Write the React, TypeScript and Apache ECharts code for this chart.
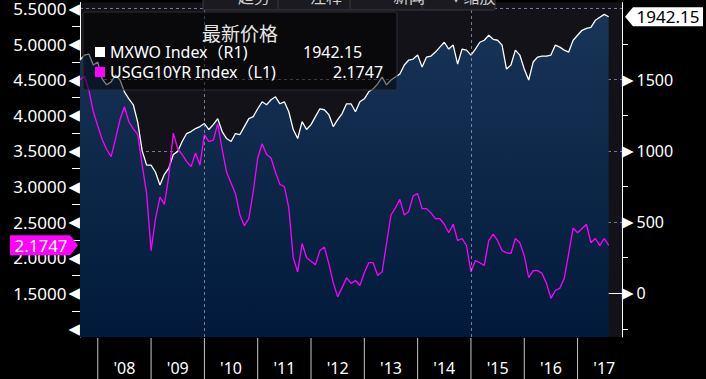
import { useEffect, useRef } from 'react';
import * as echarts from 'echarts';

// Monthly categories, Sep 2007 .. Nov 2017 (axis extends past last data point)
const START_YEAR = 2007;
const START_MONTH = 9;
const N_CATS = 123;
const months: string[] = Array.from({ length: N_CATS }, (_, i) => {
  const m = START_MONTH - 1 + i;
  return `${START_YEAR + Math.floor(m / 12)}-${String((m % 12) + 1).padStart(2, '0')}`;
});

// MXWO Index (R1), month-start readings
const mxwo: number[] = [
  1638, 1673, 1680, 1603, 1624, 1505, 1464, 1485, 1533, 1498,
  1415, 1366, 1324, 1200, 1000, 900, 900, 850, 760, 836,
  880, 975, 997, 1066, 1122, 1136, 1157, 1171, 1192, 1150,
  1185, 1227, 1136, 1087, 1066, 1122, 1115, 1171, 1227, 1241,
  1296, 1345, 1324, 1359, 1380, 1331, 1345, 1275, 1150, 1087,
  1206, 1150, 1185, 1241, 1296, 1289, 1255, 1171, 1220, 1262,
  1331, 1331, 1275, 1345, 1366, 1415, 1436, 1471, 1519, 1464,
  1498, 1519, 1540, 1603, 1638, 1645, 1673, 1589, 1659, 1666,
  1694, 1729, 1763, 1715, 1743, 1610, 1715, 1708, 1673, 1715,
  1763, 1777, 1812, 1784, 1777, 1743, 1575, 1603, 1708, 1673,
  1575, 1498, 1624, 1659, 1666, 1666, 1673, 1743, 1729, 1708,
  1694, 1777, 1812, 1847, 1861, 1868, 1917, 1938, 1959, 1942.15,
];

// USGG10YR Index (L1), month-start readings
const usgg10yr: number[] = [
  4.5, 4.55, 4.35, 4.05, 3.85, 3.66, 3.52, 3.42, 3.67, 3.94,
  4.12, 3.91, 3.81, 3.73, 3.3, 2.9, 2.1, 2.55, 2.85, 2.75,
  3.15, 3.75, 3.53, 3.45, 3.35, 3.28, 3.47, 3.3, 3.73, 3.63,
  3.65, 3.88, 3.52, 3.2, 3.05, 2.9, 2.6, 2.45, 2.55, 2.93,
  3.4, 3.6, 3.45, 3.4, 3.2, 3.03, 3.0, 2.7, 2.0, 1.8,
  2.2, 2.0, 1.95, 1.9, 2.1, 2.15, 1.92, 1.65, 1.45, 1.58,
  1.72, 1.64, 1.68, 1.61, 1.79, 1.93, 1.93, 1.75, 1.8, 2.2,
  2.6, 2.7, 2.82, 2.6, 2.65, 2.87, 2.9, 2.69, 2.69, 2.63,
  2.55, 2.55, 2.47, 2.35, 2.47, 2.24, 2.27, 2.17, 1.8, 1.96,
  1.93, 1.89, 2.24, 2.33, 2.24, 2.1, 2.07, 2.06, 2.27, 2.21,
  2.03, 1.72, 1.82, 1.82, 1.78, 1.64, 1.43, 1.54, 1.57, 1.71,
  2.06, 2.42, 2.35, 2.41, 2.47, 2.21, 2.27, 2.17, 2.27, 2.1747,
];

const leftLabelValues = [1, 1.5, 2, 2.5, 3, 3.5, 4, 4.5, 5, 5.5];
const leftMinorTicks = [1.25, 1.75, 2.25, 2.75, 3.25, 3.75, 4.25, 4.75, 5.25];
const rightLabelValues = [0, 500, 1000, 1500];
const rightMinorTicks = [-250, 250, 750, 1250, 1750];
const gridValues = [0, 500, 1000, 1500, 2000];
const gridYears = ['2010-01', '2015-01'];
const yearLabelMonths = months.filter((m) => m.endsWith('-07'));
// year separators drawn below the axis (one per January)
const yearSeparators = months.map((m) => (m.endsWith('-01') ? 1 : null));

const LEFT_MIN = 0.8868;
const LEFT_MAX = 5.5836;
const RIGHT_MIN = (LEFT_MIN - 1.5) * 500;
const RIGHT_MAX = (LEFT_MAX - 1.5) * 500;

const FONT = 'Noto Sans, Liberation Sans, sans-serif';
const CJK = 'Noto Sans CJK SC, Noto Sans, sans-serif';

export default function App() {
  const ref = useRef<HTMLDivElement>(null);

  useEffect(() => {
    document.body.style.margin = '0';
    document.body.style.background = '#000';
    if (!ref.current) return;
    const chart = echarts.init(ref.current, undefined, { renderer: 'svg' });
    const lastPrice = mxwo[mxwo.length - 1];
    const lastYield = usgg10yr[usgg10yr.length - 1];
    const dashed = { color: 'rgba(160,172,190,0.7)', type: [3, 3] as number[], width: 1 };
    const idx = (list: string[]) => list.map((m) => months.indexOf(m));

    const option: any = {
      animation: false,
      backgroundColor: '#000',
      textStyle: { fontFamily: FONT },
      grid: [
        { left: 80, right: 84, top: 0, bottom: 42, show: true, backgroundColor: '#131218', borderWidth: 0 },
        { left: 80, right: 84, top: 338, bottom: 0, show: false },
      ],
      xAxis: [
        {
          // category axis carrying the series
          type: 'category',
          gridIndex: 0,
          data: months,
          boundaryGap: false,
          position: 'bottom',
          axisLine: { show: true, lineStyle: { color: '#ffffff', width: 1 } },
          axisTick: { show: false },
          axisLabel: { show: false },
          splitLine: { show: false },
        },
        {
          // month-index axis for the year labels
          type: 'value',
          gridIndex: 0,
          min: 0,
          max: N_CATS - 1,
          position: 'bottom',
          axisLine: { show: false },
          axisTick: { show: false },
          axisLabel: {
            show: true,
            customValues: idx(yearLabelMonths),
            formatter: (v: number) => "'" + months[Math.round(v)].slice(2, 4),
            color: '#ffffff', fontSize: 16, margin: 23, fontFamily: FONT,
          },
          splitLine: { show: false },
        },
        {
          // strip under the plot for the year separators
          type: 'category',
          gridIndex: 1,
          data: months,
          boundaryGap: false,
          show: false,
        },
      ],
      yAxis: [
        {
          type: 'value', position: 'left', min: LEFT_MIN, max: LEFT_MAX, gridIndex: 0,
          axisLine: { show: true, lineStyle: { color: '#ffffff', width: 1 } },
          axisTick: { show: true, customValues: leftMinorTicks, length: 8, lineStyle: { color: '#ffffff' } },
          axisLabel: {
            customValues: leftLabelValues,
            margin: 0,
            color: '#ffffff', fontSize: 17, fontFamily: FONT,
            formatter: (v: number) => (Math.abs(v - 1) < 1e-9 ? '{t|◀}' : `${v.toFixed(4)}{t|◀}`),
            rich: { t: { fontSize: 15, color: '#ffffff', fontFamily: 'DejaVu Sans', padding: [0, 0, 0, 2] } },
          },
          splitLine: { show: false },
        },
        {
          type: 'value', position: 'right', min: RIGHT_MIN, max: RIGHT_MAX, gridIndex: 0,
          axisLine: { show: true, lineStyle: { color: '#ffffff', width: 1 } },
          axisTick: { show: true, customValues: rightMinorTicks, length: 6, lineStyle: { color: '#ffffff' } },
          axisLabel: {
            customValues: rightLabelValues,
            margin: 0,
            color: '#ffffff', fontSize: 16, fontFamily: FONT,
            formatter: (v: number) => `{t|▶}${v}`,
            rich: { t: { fontSize: 15, color: '#ffffff', fontFamily: 'DejaVu Sans', padding: [0, 3, 0, 0] } },
          },
          splitLine: { show: false },
        },
        {
          type: 'value', position: 'right', min: RIGHT_MIN, max: RIGHT_MAX, gridIndex: 0,
          axisLine: { show: false },
          axisTick: { show: false, customValues: gridValues },
          axisLabel: { show: false },
          splitLine: { show: true, lineStyle: dashed },
        },
        { type: 'value', gridIndex: 1, min: 0, max: 1, show: false },
      ],
      series: [
        {
          name: 'MXWO Index',
          type: 'line',
          xAxisIndex: 0,
          yAxisIndex: 1,
          data: mxwo,
          showSymbol: false,
          symbol: 'none',
          z: 2,
          lineStyle: { color: '#ffffff', width: 1.3 },
          areaStyle: {
            origin: 'start',
            color: new echarts.graphic.LinearGradient(0, 0, 0, 1, [
              { offset: 0, color: '#183456' },
              { offset: 1, color: '#011a3b' },
            ]),
            opacity: 1,
          },
          markLine: {
            silent: true,
            symbol: 'none',
            label: { show: false },
            lineStyle: dashed,
            data: gridYears.map((m) => ({ xAxis: m })),
          },
          markPoint: {
            silent: true,
            symbol: 'path://M0,9L8,0L78,0L78,18L8,18Z',
            symbolSize: [78, 19],
            symbolOffset: [42, 0],
            symbolKeepAspect: false,
            itemStyle: { color: '#ffffff' },
            label: {
              show: true, position: 'inside', offset: [4, 0],
              color: '#000000', fontSize: 17, fontFamily: FONT,
              formatter: () => lastPrice.toFixed(2),
            },
            data: [{ coord: [months[N_CATS - 1], lastPrice], value: lastPrice }],
          },
        },
        {
          name: 'USGG10YR Index',
          type: 'line',
          xAxisIndex: 0,
          yAxisIndex: 0,
          data: usgg10yr,
          showSymbol: false,
          symbol: 'none',
          z: 3,
          lineStyle: { color: '#ff00ff', width: 1.3 },
          markPoint: {
            silent: true,
            symbol: 'path://M0,0L60,0L68,10L60,20L0,20Z',
            symbolSize: [68, 20],
            symbolOffset: [-36, 0],
            symbolKeepAspect: false,
            itemStyle: { color: '#ff00ff' },
            label: {
              show: true, position: 'inside', offset: [-3, 0],
              color: '#ffffff', fontSize: 17, fontFamily: FONT,
              formatter: () => lastYield.toFixed(4),
            },
            data: [{ coord: [months[0], lastYield], value: lastYield }],
          },
        },
        {
          name: 'year separators',
          type: 'bar',
          xAxisIndex: 2,
          yAxisIndex: 3,
          data: yearSeparators,
          barWidth: 1,
          silent: true,
          itemStyle: { color: '#c8c8c8' },
        },
      ],
      graphic: [
        // toolbar (cut off at top)
        { type: 'rect', z: 100, shape: { x: 203, y: -14, width: 292, height: 24, r: 1 }, style: { fill: '#1b1a20', stroke: '#3a3940', lineWidth: 1 } },
        { type: 'line', z: 101, shape: { x1: 278, y1: -10, x2: 278, y2: 9 }, style: { stroke: '#3a3940', lineWidth: 1 } },
        { type: 'line', z: 101, shape: { x1: 350, y1: -10, x2: 350, y2: 9 }, style: { stroke: '#3a3940', lineWidth: 1 } },
        { type: 'line', z: 101, shape: { x1: 422, y1: -10, x2: 422, y2: 9 }, style: { stroke: '#3a3940', lineWidth: 1 } },
        { type: 'text', z: 102, x: 220, y: -4, style: { text: '— 趋势', fill: '#cfcfcf', font: `16px ${CJK}`, verticalAlign: 'middle' } },
        { type: 'text', z: 102, x: 292, y: -4, style: { text: '— 注释', fill: '#cfcfcf', font: `16px ${CJK}`, verticalAlign: 'middle' } },
        { type: 'text', z: 102, x: 375, y: -4, style: { text: '— 新闻', fill: '#cfcfcf', font: `16px ${CJK}`, verticalAlign: 'middle' } },
        { type: 'text', z: 102, x: 452, y: -4, style: { text: '▾ 缩放', fill: '#cfcfcf', font: `16px ${CJK}`, verticalAlign: 'middle' } },
        // legend box
        { type: 'rect', z: 100, shape: { x: 83, y: 12, width: 314, height: 78, r: 2 }, style: { fill: 'rgba(0,0,0,0.5)', stroke: 'rgba(50,50,58,0.9)', lineWidth: 1 } },
        { type: 'text', z: 101, x: 240, y: 32, style: { text: '最新价格', fill: '#e6e6e6', font: `19px ${CJK}`, align: 'center', verticalAlign: 'middle' } },
        { type: 'rect', z: 101, shape: { x: 95, y: 47, width: 10, height: 10 }, style: { fill: '#ffffff' } },
        { type: 'text', z: 101, x: 110, y: 52, style: { text: 'MXWO Index（R1)', fill: '#ffffff', font: `16px ${FONT}, Noto Sans CJK SC`, verticalAlign: 'middle' } },
        { type: 'text', z: 101, x: 303, y: 52, style: { text: lastPrice.toFixed(2), fill: '#ffffff', font: `16px ${FONT}`, verticalAlign: 'middle' } },
        { type: 'rect', z: 101, shape: { x: 95, y: 67, width: 10, height: 10 }, style: { fill: '#ff00ff' } },
        { type: 'text', z: 101, x: 110, y: 72, style: { text: 'USGG10YR Index（L1)', fill: '#ffffff', font: `16px ${FONT}, Noto Sans CJK SC`, verticalAlign: 'middle' } },
        { type: 'text', z: 101, x: 333, y: 72, style: { text: lastYield.toFixed(4), fill: '#ffffff', font: `16px ${FONT}`, verticalAlign: 'middle' } },
      ],
    };

    chart.setOption(option);
    return () => chart.dispose();
  }, []);

  return <div ref={ref} style={{ width: 706, height: 379, background: '#000' }} />;
}
